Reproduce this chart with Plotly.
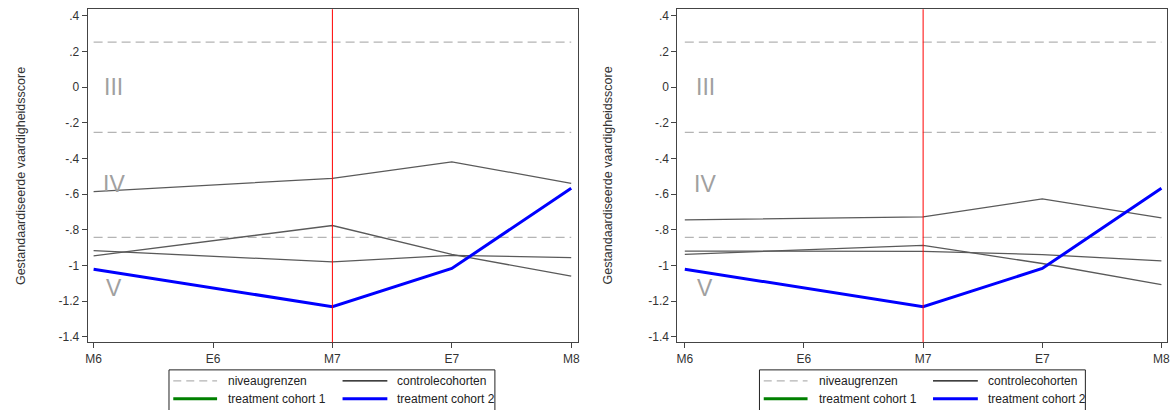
import plotly.graph_objects as go

periods = ["M6", "E6", "M7", "E7", "M8"]
ytick_vals = [0.4, 0.2, 0, -0.2, -0.4, -0.6, -0.8, -1, -1.2, -1.4]
ytick_text = [".4", ".2", "0", "-.2", "-.4", "-.6", "-.8", "-1", "-1.2", "-1.4"]
level_cuts = [0.253, -0.253, -0.842]
level_names = ["III", "IV", "V"]
level_label_y = [0.0, -0.545, -1.128]

# panel 1 (left)
left_controls = [
    [-0.586, None, -0.511, -0.419, -0.539],
    [-0.946, None, -0.776, -0.938, -1.060],
    [-0.917, None, -0.980, -0.943, -0.956],
]
left_treat2 = [-1.021, None, -1.231, -1.017, -0.567]

# panel 2 (right)
right_controls = [
    [-0.744, None, -0.727, -0.627, -0.733],
    [-0.938, None, -0.887, -0.989, -1.107],
    [-0.919, None, -0.921, -0.939, -0.974],
]
right_treat2 = [-1.021, None, -1.231, -1.017, -0.567]

treatment_marker_period = "M7"
ytitle = "Gestandaardiseerde vaardigheidsscore"
legend_labels = ["niveaugrenzen", "controlecohorten", "treatment cohort 1", "treatment cohort 2"]

FONT = "Liberation Sans, Arial, sans-serif"
W, H = 1174, 410
xidx = list(range(len(periods)))

fig = go.Figure()

panels = [
    dict(controls=left_controls, treat=left_treat2, xa="x", ya="y",
         dom=[86 / W, 578 / W], xr=[-0.05, 4.053], off=0, title_x=18.5),
    dict(controls=right_controls, treat=right_treat2, xa="x2", ya="y2",
         dom=[678.3 / W, 1170 / W], xr=[-0.062, 4.047], off=593, title_x=608.5),
]
ydom = [1 - 344 / H, 1 - 9.3 / H]

shapes = []
annotations = []
for p in panels:
    for c in level_cuts:
        fig.add_trace(go.Scatter(x=[xidx[0], xidx[-1]], y=[c, c], mode="lines",
                                 line=dict(color="#b4b4b4", width=1.2, dash="9px,5px"),
                                 xaxis=p["xa"], yaxis=p["ya"], showlegend=False,
                                 hoverinfo="skip"))
    for ctl in p["controls"]:
        fig.add_trace(go.Scatter(x=xidx, y=ctl, mode="lines", connectgaps=True,
                                 line=dict(color="#5a5a5a", width=1.3),
                                 xaxis=p["xa"], yaxis=p["ya"], showlegend=False))
    fig.add_trace(go.Scatter(x=xidx, y=p["treat"], mode="lines", connectgaps=True,
                             line=dict(color="#0000ff", width=3),
                             xaxis=p["xa"], yaxis=p["ya"], showlegend=False))
    mx = periods.index(treatment_marker_period)
    shapes.append(dict(type="line", xref=p["xa"], yref=p["ya"] + " domain",
                       x0=mx, x1=mx, y0=0, y1=1, line=dict(color="#ff0000", width=1)))
    for name, ly in zip(level_names, level_label_y):
        annotations.append(dict(x=0.17, y=ly, xref=p["xa"], yref=p["ya"], text=name,
                                showarrow=False, font=dict(family=FONT, size=23, color="#a0a0a0")))
    # y title
    annotations.append(dict(x=p["title_x"] / W, y=1 - 176.5 / H, xanchor="center", yanchor="middle",
                            xref="paper", yref="paper", text=ytitle, textangle=-90,
                            showarrow=False, font=dict(family=FONT, size=12.5, color="#333333")))
    # legend box
    o = p["off"]
    shapes.append(dict(type="rect", xref="paper", yref="paper",
                       x0=(167.7 + o) / W, x1=(495 + o) / W, y0=-0.02, y1=1 - 371.7 / H,
                       line=dict(color="#222222", width=1), fillcolor="white"))
    samples = [
        (172, 216, 382.7, dict(color="#b4b4b4", width=1.2, dash="8px,5px"), legend_labels[0], 225),
        (342, 387, 382.7, dict(color="#000000", width=1.2), legend_labels[1], 395),
        (172, 216, 400.7, dict(color="#008000", width=3), legend_labels[2], 225),
        (342, 387, 400.7, dict(color="#0000ff", width=3), legend_labels[3], 395),
    ]
    for x0, x1, yy, ln, lab, tx in samples:
        shapes.append(dict(type="line", xref="paper", yref="paper",
                           x0=(x0 + o) / W, x1=(x1 + o) / W, y0=1 - yy / H, y1=1 - yy / H, line=ln))
        annotations.append(dict(x=(tx + o) / W, y=1 - yy / H, xref="paper", yref="paper",
                                text=lab, showarrow=False, xanchor="left", yanchor="middle",
                                font=dict(family=FONT, size=12, color="#222222")))

axis_common = dict(showline=True, linecolor="#444444", linewidth=1, mirror=True,
                   showgrid=False, zeroline=False, ticks="outside", ticklen=5,
                   tickcolor="#444444", tickfont=dict(family=FONT, size=12, color="#333333"))

fig.update_layout(
    width=W, height=H, margin=dict(l=0, r=0, t=0, b=0),
    paper_bgcolor="white", plot_bgcolor="white", showlegend=False,
    shapes=shapes, annotations=annotations,
    xaxis=dict(domain=panels[0]["dom"], range=panels[0]["xr"], anchor="y",
               tickvals=xidx, ticktext=periods, **axis_common),
    yaxis=dict(domain=ydom, range=[-1.431, 0.437], anchor="x",
               tickvals=ytick_vals, ticktext=ytick_text, **axis_common),
    xaxis2=dict(domain=panels[1]["dom"], range=panels[1]["xr"], anchor="y2",
                tickvals=xidx, ticktext=periods, **axis_common),
    yaxis2=dict(domain=ydom, range=[-1.431, 0.437], anchor="x2",
                tickvals=ytick_vals, ticktext=ytick_text, **axis_common),
)

fig.write_html("out.html")
